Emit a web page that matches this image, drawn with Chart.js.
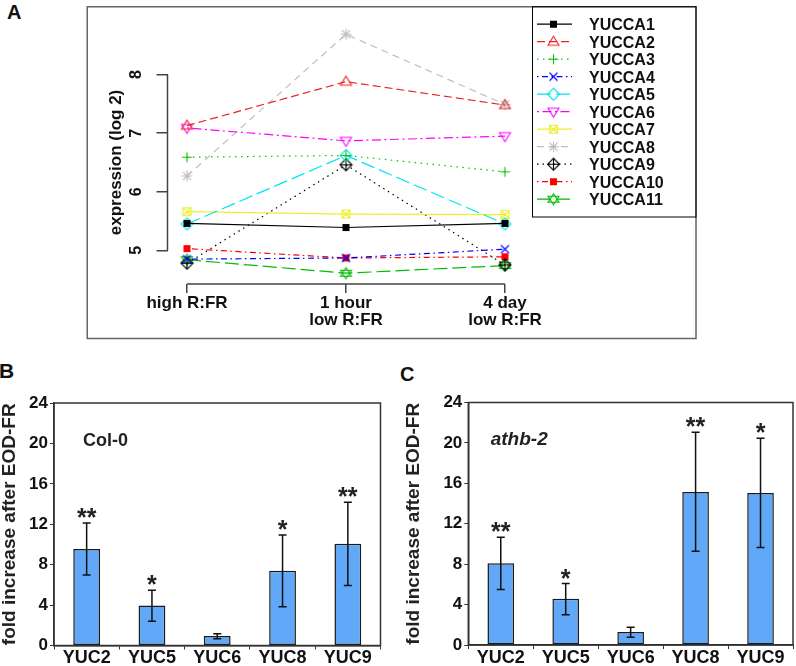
<!DOCTYPE html>
<html><head><meta charset="utf-8">
<script src="https://cdn.jsdelivr.net/npm/chart.js@4.4.1/dist/chart.umd.min.js"></script>
<style>
html,body{margin:0;padding:0;background:#fff;width:796px;height:666px;overflow:hidden;position:relative;font-family:"Liberation Sans",Arial,sans-serif;}
canvas{position:absolute;}
.plbl{position:absolute;font-weight:bold;line-height:1;color:#111;font-family:"Liberation Sans",Arial,sans-serif;}
</style></head><body>
<div class="plbl" style="left:7px;top:2px;font-size:20px">A</div>
<div class="plbl" style="left:-1px;top:360px;font-size:21px">B</div>
<div class="plbl" style="left:400px;top:364px;font-size:20px">C</div>
<canvas id="cA" width="796" height="345" style="left:0;top:0"></canvas>
<canvas id="cB" width="402" height="286" style="left:-2px;top:380px"></canvas>
<canvas id="cC" width="416" height="286" style="left:380px;top:380px"></canvas>
<script>
// ---------- Panel A data ----------
const timeLabels = [['high R:FR'], ['1 hour', 'low R:FR'], ['4 day', 'low R:FR']];
const expressionTicks = [5, 6, 7, 8];
const geneNames = ['YUCCA1','YUCCA2','YUCCA3','YUCCA4','YUCCA5','YUCCA6','YUCCA7','YUCCA8','YUCCA9','YUCCA10','YUCCA11'];
const yucca1  = [5.46, 5.39, 5.46];
const yucca2  = [7.13, 7.88, 7.48];
const yucca3  = [6.59, 6.62, 6.34];
const yucca4  = [4.85, 4.87, 5.02];
const yucca5  = [5.45, 6.62, 5.45];
const yucca6  = [7.09, 6.87, 6.95];
const yucca7  = [5.66, 5.62, 5.61];
const yucca8  = [6.27, 8.69, 7.49];
const yucca9  = [4.78, 6.46, 4.75];
const yucca10 = [5.03, 4.87, 4.89];
const yucca11 = [4.84, 4.61, 4.74];

// ---------- Panels B / C data ----------
const yucGenes = ['YUC2', 'YUC5', 'YUC6', 'YUC8', 'YUC9'];
const foldTicks = [0, 4, 8, 12, 16, 20, 24];
const col0Fold    = [9.55, 3.97, 0.95, 7.40, 10.07];
const col0ErrHigh = [12.12, 5.47, 1.17, 10.94, 14.18];
const col0ErrLow  = [6.98, 2.41, 0.66, 3.83, 5.93];
const col0Stars   = ['**', '*', '', '*', '**'];
const athbFold    = [8.10, 4.57, 1.29, 15.15, 15.05];
const athbErrHigh = [10.67, 6.08, 1.75, 21.05, 20.45];
const athbErrLow  = [5.50, 3.00, 0.77, 9.27, 9.66];
const athbStars   = ['**', '*', '', '**', '*'];

// ---------- styles ----------
const FONT = "'Liberation Sans', Arial, sans-serif";
Chart.defaults.font.family = FONT;
Chart.defaults.color = '#111';

const seriesStyle = [
  {color:'#000000', dash:[],              glyph:'fsq7'},
  {color:'#ee2222', dash:[8,4],           glyph:'triUp'},
  {color:'#00c400', dash:[1.5,4.5],       glyph:'plus'},
  {color:'#0000ff', dash:[1.5,3.5,6,3.5], glyph:'x'},
  {color:'#00e5ee', dash:[14,5],          glyph:'diamond'},
  {color:'#ff00ff', dash:[2,3.5,9,3.5],   glyph:'triDown'},
  {color:'#eeee30', dash:[],              glyph:'sqx'},
  {color:'#bebebe', dash:[7,5],           glyph:'ast'},
  {color:'#000000', dash:[1.5,4],         glyph:'diaplus'},
  {color:'#ff0000', dash:[1.5,3.5,6,3.5], glyph:'fsq7'},
  {color:'#00bb00', dash:[14,5],          glyph:'david'}
];

function makeGlyph(kind, color) {
  const s = 15, c = 7.5;
  const cv = document.createElement('canvas');
  cv.width = s; cv.height = s;
  const g = cv.getContext('2d');
  g.strokeStyle = color; g.fillStyle = color; g.lineWidth = 1.1;
  g.beginPath();
  const poly = pts => { g.moveTo(pts[0][0], pts[0][1]); for (let k = 1; k < pts.length; k++) g.lineTo(pts[k][0], pts[k][1]); g.closePath(); };
  switch (kind) {
    case 'fsq7': g.fillRect(c-3.5, c-3.5, 7, 7); break;
    case 'triUp': poly([[c, c-5.5],[c-5.5, c+3.5],[c+5.5, c+3.5]]); g.stroke(); break;
    case 'triDown': poly([[c-5.5, c-3.5],[c+5.5, c-3.5],[c, c+5.5]]); g.stroke(); break;
    case 'plus': g.moveTo(c-5, c); g.lineTo(c+5, c); g.moveTo(c, c-5); g.lineTo(c, c+5); g.stroke(); break;
    case 'x': g.moveTo(c-4, c-4); g.lineTo(c+4, c+4); g.moveTo(c-4, c+4); g.lineTo(c+4, c-4); g.stroke(); break;
    case 'diamond': poly([[c, c-6],[c+6, c],[c, c+6],[c-6, c]]); g.stroke(); break;
    case 'sqx': g.rect(c-4, c-4, 8, 8); g.moveTo(c-4, c-4); g.lineTo(c+4, c+4); g.moveTo(c-4, c+4); g.lineTo(c+4, c-4); g.stroke(); break;
    case 'ast': g.moveTo(c-5.5, c); g.lineTo(c+5.5, c); g.moveTo(c, c-5.5); g.lineTo(c, c+5.5);
      g.moveTo(c-4, c-4); g.lineTo(c+4, c+4); g.moveTo(c-4, c+4); g.lineTo(c+4, c-4); g.stroke(); break;
    case 'diaplus': poly([[c, c-6],[c+6, c],[c, c+6],[c-6, c]]);
      g.moveTo(c-6, c); g.lineTo(c+6, c); g.moveTo(c, c-6); g.lineTo(c, c+6); g.stroke(); break;
    case 'david': poly([[c, c-5.5],[c-5.5, c+3],[c+5.5, c+3]]); poly([[c, c+5.5],[c-5.5, c-3],[c+5.5, c-3]]); g.stroke(); break;
  }
  return cv;
}
const glyphs = seriesStyle.map(s => makeGlyph(s.glyph, s.color));

// ---------- Panel A ----------
const seriesValues = [yucca1, yucca2, yucca3, yucca4, yucca5, yucca6, yucca7, yucca8, yucca9, yucca10, yucca11];
const datasetsA = geneNames.map((name, i) => ({
  label: name,
  data: seriesValues[i].map((v, j) => ({x: j + 1, y: v})),
  borderColor: seriesStyle[i].color,
  backgroundColor: seriesStyle[i].color,
  borderWidth: 1.2,
  borderDash: seriesStyle[i].dash,
  pointStyle: glyphs[i],
  pointRadius: 5,
  tension: 0,
  fill: false
}));

const panelADecor = {
  id: 'panelADecor',
  beforeDatasetsDraw(chart) {
    const {ctx, chartArea, scales: {x, y}} = chart;
    ctx.save();
    ctx.strokeStyle = '#444'; ctx.lineWidth = 1.5;
    ctx.beginPath();
    ctx.moveTo(chartArea.left, y.getPixelForValue(expressionTicks[0]));
    ctx.lineTo(chartArea.left, y.getPixelForValue(expressionTicks[expressionTicks.length - 1]));
    ctx.moveTo(x.getPixelForValue(1), chartArea.bottom);
    ctx.lineTo(x.getPixelForValue(timeLabels.length), chartArea.bottom);
    ctx.stroke();
    // figure box
    ctx.strokeStyle = '#666'; ctx.lineWidth = 1.5;
    ctx.strokeRect(87.25, 6.75, 696 - 87.25, 338.5 - 6.75);
    // y axis title
    ctx.fillStyle = '#111';
    ctx.font = 'bold 17px ' + FONT;
    ctx.textAlign = 'center'; ctx.textBaseline = 'middle';
    const midY = (y.getPixelForValue(expressionTicks[0]) + y.getPixelForValue(expressionTicks[expressionTicks.length - 1])) / 2;
    ctx.translate(116, midY); ctx.rotate(-Math.PI / 2);
    ctx.fillText('expression (log 2)', 0, 0);
    ctx.restore();
  },
  afterDraw(chart) {
    const ctx = chart.ctx;
    ctx.save();
    ctx.strokeStyle = '#000'; ctx.lineWidth = 1;
    ctx.strokeRect(532.5, 6.75, 696 - 532.5, 217 - 6.75);
    chart.data.datasets.forEach((ds, i) => {
      const yy = 24.2 + i * 17.5;
      ctx.strokeStyle = ds.borderColor; ctx.lineWidth = 1.2;
      ctx.setLineDash(ds.borderDash);
      ctx.beginPath(); ctx.moveTo(537, yy); ctx.lineTo(572, yy); ctx.stroke();
      ctx.setLineDash([]);
      const gl = ds.pointStyle;
      ctx.drawImage(gl, 553.5 - gl.width / 2, yy - gl.height / 2);
      ctx.fillStyle = '#111';
      ctx.font = 'bold 16px ' + FONT;
      ctx.textAlign = 'left'; ctx.textBaseline = 'alphabetic';
      ctx.fillText(ds.label, 589, yy + 5.8);
    });
    ctx.restore();
  }
};

new Chart(document.getElementById('cA'), {
  type: 'line',
  data: {datasets: datasetsA},
  options: {
    responsive: false, animation: false, events: [],
    layout: {padding: {left: 100, right: 100, top: 7, bottom: 0}},
    plugins: {legend: {display: false}, tooltip: {enabled: false}},
    scales: {
      x: {
        type: 'linear', min: 1 - 19.5 / 159, max: 3 + 191 / 159,
        afterBuildTicks: s => { s.ticks = timeLabels.map((t, i) => ({value: i + 1})); },
        afterFit: s => { s.height = 61; },
        border: {display: false},
        grid: {drawOnChartArea: false, drawTicks: true, tickLength: 9, color: '#444', lineWidth: 1.5},
        ticks: {
          callback: v => timeLabels[v - 1],
          font: {size: 17, weight: 'bold', lineHeight: 1},
          color: '#111', padding: 1.5, maxRotation: 0, minRotation: 0, autoSkip: false
        }
      },
      y: {
        type: 'linear', min: 5 - 36 / 62.67, max: 5 + 241 / 62.67,
        afterBuildTicks: s => { s.ticks = expressionTicks.map(v => ({value: v})); },
        afterFit: s => { s.width = 67.5; },
        border: {display: false},
        grid: {drawOnChartArea: false, drawTicks: true, tickLength: 11, color: '#444', lineWidth: 1.5},
        ticks: {
          font: {size: 16, weight: 'bold'}, color: '#111',
          minRotation: 90, maxRotation: 90, crossAlign: 'center', padding: 15.5, autoSkip: false
        }
      }
    }
  },
  plugins: [panelADecor]
});

// ---------- Panels B / C ----------
const barDecor = {
  id: 'barDecor',
  afterDatasetsDraw(chart, args, opts) {
    const {ctx, chartArea: a, scales: {y}} = chart;
    const meta = chart.getDatasetMeta(0);
    ctx.save();
    ctx.strokeStyle = '#111'; ctx.lineWidth = 1.5;
    meta.data.forEach((bar, i) => {
      const x = bar.x;
      const yh = y.getPixelForValue(opts.hi[i]);
      const yl = y.getPixelForValue(opts.lo[i]);
      ctx.beginPath();
      ctx.moveTo(x, yh); ctx.lineTo(x, yl);
      ctx.moveTo(x - 4, yh); ctx.lineTo(x + 4, yh);
      ctx.moveTo(x - 4, yl); ctx.lineTo(x + 4, yl);
      ctx.stroke();
      if (opts.stars[i]) {
        ctx.fillStyle = '#222';
        ctx.font = 'bold 25px ' + FONT;
        ctx.textAlign = 'center'; ctx.textBaseline = 'alphabetic';
        ctx.fillText(opts.stars[i], x, yh + 3);
      }
    });
    ctx.strokeStyle = '#333'; ctx.lineWidth = 1.5;
    ctx.strokeRect(a.left, a.top, a.right - a.left, a.bottom - a.top);
    ctx.fillStyle = '#222';
    ctx.font = opts.labelFont;
    ctx.textAlign = 'left'; ctx.textBaseline = 'alphabetic';
    ctx.fillText(opts.label, a.left + opts.labelDx, a.top + opts.labelDy);
    ctx.restore();
  }
};

function barChart(id, values, hi, lo, stars, label, labelFont, labelDx, labelDy, pad, yWidth, xHeight) {
  return new Chart(document.getElementById(id), {
    type: 'bar',
    data: {
      labels: yucGenes,
      datasets: [{
        data: values,
        backgroundColor: '#62a8f8',
        borderColor: '#1a1a1a',
        borderWidth: 1.5,
        borderSkipped: false,
        barPercentage: 0.41,
        categoryPercentage: 1.0
      }]
    },
    options: {
      responsive: false, animation: false, events: [],
      layout: {padding: pad},
      plugins: {
        legend: {display: false}, tooltip: {enabled: false},
        barDecor: {hi, lo, stars, label, labelFont, labelDx, labelDy}
      },
      scales: {
        x: {
          afterFit: s => { s.height = xHeight; },
          border: {display: true, color: '#222', width: 1.5},
          grid: {offset: true, drawOnChartArea: false, drawTicks: true, tickLength: 4, color: '#333', lineWidth: 1},
          ticks: {font: {size: 18, weight: 'bold', lineHeight: 1}, color: '#111', padding: 0, maxRotation: 0}
        },
        y: {
          min: 0, max: 24,
          afterBuildTicks: s => { s.ticks = foldTicks.map(v => ({value: v})); },
          afterFit: s => { s.width = yWidth; },
          border: {display: true, color: '#333', width: 1.5},
          grid: {drawOnChartArea: false, drawTicks: true, tickLength: 4, color: '#333', lineWidth: 1},
          ticks: {font: {size: 17, weight: 'bold'}, color: '#111', padding: 2},
          title: {display: true, text: 'fold increase after EOD-FR', font: {size: 19, weight: 'bold'}, color: '#222', padding: {top: 0, bottom: 0}}
        }
      }
    },
    plugins: [barDecor]
  });
}

barChart('cB', col0Fold, col0ErrHigh, col0ErrLow, col0Stars, 'Col-0', 'bold 18px ' + FONT, 29, 43,
  {left: 0, right: 19.5, top: 23, bottom: 0}, 56, 20.5);
barChart('cC', athbFold, athbErrHigh, athbErrLow, athbStars, 'athb-2', 'italic bold 19px ' + FONT, 22.4, 42.5,
  {left: 22, right: 3, top: 22.5, bottom: 0}, 66.3, 21);
</script>
</body></html>
